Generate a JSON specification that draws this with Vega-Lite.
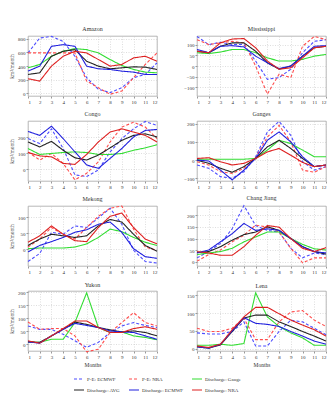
{
  "$schema": "https://vega.github.io/schema/vega-lite/v6.json",
  "padding": {"left": 9, "top": 25, "right": 0, "bottom": 5},
  "background": "white",
  "datasets": {
    "d": [
      {"b":"Amazon","m":1,"pe_ecmwf":592,"pe_nra":592,"gauge":373,"avg":276,"ecmwf":325,"nra":213},
      {"b":"Amazon","m":2,"pe_ecmwf":810,"pe_nra":592,"gauge":422,"avg":300,"ecmwf":398,"nra":179},
      {"b":"Amazon","m":3,"pe_ecmwf":834,"pe_nra":592,"gauge":543,"avg":543,"ecmwf":689,"nra":398},
      {"b":"Amazon","m":4,"pe_ecmwf":761,"pe_nra":592,"gauge":616,"avg":616,"ecmwf":713,"nra":543},
      {"b":"Amazon","m":5,"pe_ecmwf":543,"pe_nra":592,"gauge":655,"avg":640,"ecmwf":689,"nra":616},
      {"b":"Amazon","m":6,"pe_ecmwf":228,"pe_nra":179,"gauge":640,"avg":470,"ecmwf":398,"nra":592},
      {"b":"Amazon","m":7,"pe_ecmwf":58,"pe_nra":82,"gauge":592,"avg":398,"ecmwf":359,"nra":495},
      {"b":"Amazon","m":8,"pe_ecmwf":10,"pe_nra":-15,"gauge":495,"avg":359,"ecmwf":349,"nra":398},
      {"b":"Amazon","m":9,"pe_ecmwf":82,"pe_nra":34,"gauge":407,"avg":373,"ecmwf":325,"nra":422},
      {"b":"Amazon","m":10,"pe_ecmwf":228,"pe_nra":228,"gauge":349,"avg":388,"ecmwf":310,"nra":519},
      {"b":"Amazon","m":11,"pe_ecmwf":276,"pe_nra":422,"gauge":310,"avg":383,"ecmwf":276,"nra":543},
      {"b":"Amazon","m":12,"pe_ecmwf":446,"pe_nra":592,"gauge":300,"avg":349,"ecmwf":276,"nra":470},
      {"b":"Mississippi","m":1,"pe_ecmwf":138,"pe_nra":123,"gauge":62,"avg":69,"ecmwf":77,"nra":69},
      {"b":"Mississippi","m":2,"pe_ecmwf":100,"pe_nra":100,"gauge":58,"avg":62,"ecmwf":62,"nra":62},
      {"b":"Mississippi","m":3,"pe_ecmwf":111,"pe_nra":108,"gauge":65,"avg":92,"ecmwf":92,"nra":108},
      {"b":"Mississippi","m":4,"pe_ecmwf":100,"pe_nra":115,"gauge":77,"avg":108,"ecmwf":95,"nra":126},
      {"b":"Mississippi","m":5,"pe_ecmwf":100,"pe_nra":108,"gauge":77,"avg":108,"ecmwf":89,"nra":128},
      {"b":"Mississippi","m":6,"pe_ecmwf":23,"pe_nra":0,"gauge":62,"avg":69,"ecmwf":46,"nra":85},
      {"b":"Mississippi","m":7,"pe_ecmwf":-62,"pe_nra":-131,"gauge":38,"avg":15,"ecmwf":15,"nra":23},
      {"b":"Mississippi","m":8,"pe_ecmwf":-54,"pe_nra":-38,"gauge":23,"avg":-15,"ecmwf":-12,"nra":-15},
      {"b":"Mississippi","m":9,"pe_ecmwf":-15,"pe_nra":-54,"gauge":23,"avg":0,"ecmwf":0,"nra":-8},
      {"b":"Mississippi","m":10,"pe_ecmwf":62,"pe_nra":92,"gauge":31,"avg":46,"ecmwf":46,"nra":38},
      {"b":"Mississippi","m":11,"pe_ecmwf":115,"pe_nra":138,"gauge":46,"avg":85,"ecmwf":92,"nra":85},
      {"b":"Mississippi","m":12,"pe_ecmwf":123,"pe_nra":123,"gauge":54,"avg":92,"ecmwf":95,"nra":92},
      {"b":"Congo","m":1,"pe_ecmwf":190,"pe_nra":107,"gauge":128,"avg":169,"ecmwf":235,"nra":103},
      {"b":"Congo","m":2,"pe_ecmwf":159,"pe_nra":56,"gauge":91,"avg":138,"ecmwf":210,"nra":82},
      {"b":"Congo","m":3,"pe_ecmwf":251,"pe_nra":97,"gauge":97,"avg":173,"ecmwf":268,"nra":76},
      {"b":"Congo","m":4,"pe_ecmwf":128,"pe_nra":35,"gauge":103,"avg":117,"ecmwf":190,"nra":35},
      {"b":"Congo","m":5,"pe_ecmwf":-37,"pe_nra":-68,"gauge":107,"avg":70,"ecmwf":107,"nra":29},
      {"b":"Congo","m":6,"pe_ecmwf":-47,"pe_nra":-27,"gauge":103,"avg":56,"ecmwf":25,"nra":91},
      {"b":"Congo","m":7,"pe_ecmwf":-6,"pe_nra":45,"gauge":91,"avg":87,"ecmwf":4,"nra":169},
      {"b":"Congo","m":8,"pe_ecmwf":107,"pe_nra":169,"gauge":91,"avg":132,"ecmwf":66,"nra":231},
      {"b":"Congo","m":9,"pe_ecmwf":190,"pe_nra":262,"gauge":97,"avg":179,"ecmwf":128,"nra":251},
      {"b":"Congo","m":10,"pe_ecmwf":251,"pe_nra":292,"gauge":117,"avg":210,"ecmwf":200,"nra":231},
      {"b":"Congo","m":11,"pe_ecmwf":297,"pe_nra":262,"gauge":132,"avg":220,"ecmwf":241,"nra":210},
      {"b":"Congo","m":12,"pe_ecmwf":272,"pe_nra":190,"gauge":152,"avg":200,"ecmwf":247,"nra":169},
      {"b":"Ganges","m":1,"pe_ecmwf":-27,"pe_nra":-9,"gauge":5,"avg":0,"ecmwf":0,"nra":9},
      {"b":"Ganges","m":2,"pe_ecmwf":-45,"pe_nra":-27,"gauge":5,"avg":-18,"ecmwf":-5,"nra":13},
      {"b":"Ganges","m":3,"pe_ecmwf":-91,"pe_nra":-64,"gauge":5,"avg":-45,"ecmwf":-55,"nra":-9},
      {"b":"Ganges","m":4,"pe_ecmwf":-100,"pe_nra":-73,"gauge":5,"avg":-67,"ecmwf":-109,"nra":-27},
      {"b":"Ganges","m":5,"pe_ecmwf":-64,"pe_nra":-45,"gauge":5,"avg":-36,"ecmwf":-55,"nra":-18},
      {"b":"Ganges","m":6,"pe_ecmwf":18,"pe_nra":13,"gauge":9,"avg":9,"ecmwf":9,"nra":9},
      {"b":"Ganges","m":7,"pe_ecmwf":155,"pe_nra":127,"gauge":55,"avg":73,"ecmwf":109,"nra":45},
      {"b":"Ganges","m":8,"pe_ecmwf":213,"pe_nra":191,"gauge":109,"avg":109,"ecmwf":155,"nra":64},
      {"b":"Ganges","m":9,"pe_ecmwf":136,"pe_nra":100,"gauge":91,"avg":64,"ecmwf":100,"nra":27},
      {"b":"Ganges","m":10,"pe_ecmwf":-9,"pe_nra":-55,"gauge":55,"avg":9,"ecmwf":18,"nra":-13},
      {"b":"Ganges","m":11,"pe_ecmwf":-55,"pe_nra":-67,"gauge":18,"avg":-36,"ecmwf":-36,"nra":-36},
      {"b":"Ganges","m":12,"pe_ecmwf":-36,"pe_nra":-36,"gauge":18,"avg":-27,"ecmwf":-27,"nra":-27},
      {"b":"Mekong","m":1,"pe_ecmwf":-38,"pe_nra":7,"gauge":2,"avg":12,"ecmwf":-8,"nra":22},
      {"b":"Mekong","m":2,"pe_ecmwf":-13,"pe_nra":32,"gauge":4,"avg":32,"ecmwf":12,"nra":42},
      {"b":"Mekong","m":3,"pe_ecmwf":53,"pe_nra":68,"gauge":4,"avg":47,"ecmwf":24,"nra":73},
      {"b":"Mekong","m":4,"pe_ecmwf":47,"pe_nra":47,"gauge":4,"avg":42,"ecmwf":37,"nra":47},
      {"b":"Mekong","m":5,"pe_ecmwf":73,"pe_nra":32,"gauge":7,"avg":37,"ecmwf":53,"nra":27},
      {"b":"Mekong","m":6,"pe_ecmwf":68,"pe_nra":68,"gauge":17,"avg":42,"ecmwf":61,"nra":24},
      {"b":"Mekong","m":7,"pe_ecmwf":98,"pe_nra":103,"gauge":37,"avg":73,"ecmwf":78,"nra":68},
      {"b":"Mekong","m":8,"pe_ecmwf":128,"pe_nra":128,"gauge":63,"avg":93,"ecmwf":85,"nra":103},
      {"b":"Mekong","m":9,"pe_ecmwf":78,"pe_nra":135,"gauge":55,"avg":85,"ecmwf":53,"nra":113},
      {"b":"Mekong","m":10,"pe_ecmwf":-3,"pe_nra":63,"gauge":37,"avg":47,"ecmwf":2,"nra":68},
      {"b":"Mekong","m":11,"pe_ecmwf":-38,"pe_nra":7,"gauge":22,"avg":12,"ecmwf":-23,"nra":32},
      {"b":"Mekong","m":12,"pe_ecmwf":-43,"pe_nra":-3,"gauge":12,"avg":-6,"ecmwf":-28,"nra":17},
      {"b":"Chang Jiang","m":1,"pe_ecmwf":17,"pe_nra":3,"gauge":31,"avg":40,"ecmwf":38,"nra":44},
      {"b":"Chang Jiang","m":2,"pe_ecmwf":44,"pe_nra":31,"gauge":38,"avg":44,"ecmwf":51,"nra":38},
      {"b":"Chang Jiang","m":3,"pe_ecmwf":79,"pe_nra":51,"gauge":44,"avg":65,"ecmwf":86,"nra":28},
      {"b":"Chang Jiang","m":4,"pe_ecmwf":142,"pe_nra":86,"gauge":58,"avg":93,"ecmwf":121,"nra":28},
      {"b":"Chang Jiang","m":5,"pe_ecmwf":242,"pe_nra":114,"gauge":86,"avg":117,"ecmwf":165,"nra":65},
      {"b":"Chang Jiang","m":6,"pe_ecmwf":156,"pe_nra":158,"gauge":107,"avg":128,"ecmwf":135,"nra":114},
      {"b":"Chang Jiang","m":7,"pe_ecmwf":135,"pe_nra":149,"gauge":128,"avg":151,"ecmwf":142,"nra":156},
      {"b":"Chang Jiang","m":8,"pe_ecmwf":128,"pe_nra":128,"gauge":128,"avg":135,"ecmwf":135,"nra":149},
      {"b":"Chang Jiang","m":9,"pe_ecmwf":58,"pe_nra":58,"gauge":100,"avg":100,"ecmwf":100,"nra":100},
      {"b":"Chang Jiang","m":10,"pe_ecmwf":17,"pe_nra":-4,"gauge":75,"avg":65,"ecmwf":65,"nra":58},
      {"b":"Chang Jiang","m":11,"pe_ecmwf":38,"pe_nra":17,"gauge":56,"avg":44,"ecmwf":44,"nra":44},
      {"b":"Chang Jiang","m":12,"pe_ecmwf":31,"pe_nra":17,"gauge":51,"avg":33,"ecmwf":38,"nra":61},
      {"b":"Yukon","m":1,"pe_ecmwf":71,"pe_nra":86,"gauge":10,"avg":10,"ecmwf":10,"nra":14},
      {"b":"Yukon","m":2,"pe_ecmwf":58,"pe_nra":58,"gauge":8,"avg":8,"ecmwf":5,"nra":5},
      {"b":"Yukon","m":3,"pe_ecmwf":58,"pe_nra":61,"gauge":20,"avg":33,"ecmwf":33,"nra":33},
      {"b":"Yukon","m":4,"pe_ecmwf":39,"pe_nra":61,"gauge":20,"avg":58,"ecmwf":58,"nra":61},
      {"b":"Yukon","m":5,"pe_ecmwf":14,"pe_nra":33,"gauge":84,"avg":86,"ecmwf":81,"nra":90},
      {"b":"Yukon","m":6,"pe_ecmwf":-11,"pe_nra":-28,"gauge":198,"avg":77,"ecmwf":73,"nra":90},
      {"b":"Yukon","m":7,"pe_ecmwf":8,"pe_nra":-18,"gauge":65,"avg":65,"ecmwf":65,"nra":65},
      {"b":"Yukon","m":8,"pe_ecmwf":46,"pe_nra":46,"gauge":46,"avg":56,"ecmwf":52,"nra":46},
      {"b":"Yukon","m":9,"pe_ecmwf":71,"pe_nra":84,"gauge":48,"avg":48,"ecmwf":48,"nra":46},
      {"b":"Yukon","m":10,"pe_ecmwf":84,"pe_nra":122,"gauge":33,"avg":52,"ecmwf":46,"nra":61},
      {"b":"Yukon","m":11,"pe_ecmwf":73,"pe_nra":84,"gauge":27,"avg":46,"ecmwf":33,"nra":68},
      {"b":"Yukon","m":12,"pe_ecmwf":65,"pe_nra":71,"gauge":18,"avg":33,"ecmwf":20,"nra":58},
      {"b":"Lena","m":1,"pe_ecmwf":44,"pe_nra":57,"gauge":9,"avg":5,"ecmwf":5,"nra":7},
      {"b":"Lena","m":2,"pe_ecmwf":41,"pe_nra":48,"gauge":9,"avg":1,"ecmwf":1,"nra":3},
      {"b":"Lena","m":3,"pe_ecmwf":41,"pe_nra":48,"gauge":12,"avg":10,"ecmwf":12,"nra":12},
      {"b":"Lena","m":4,"pe_ecmwf":48,"pe_nra":57,"gauge":9,"avg":48,"ecmwf":50,"nra":53},
      {"b":"Lena","m":5,"pe_ecmwf":75,"pe_nra":85,"gauge":14,"avg":86,"ecmwf":87,"nra":89},
      {"b":"Lena","m":6,"pe_ecmwf":7,"pe_nra":25,"gauge":157,"avg":94,"ecmwf":71,"nra":116},
      {"b":"Lena","m":7,"pe_ecmwf":7,"pe_nra":25,"gauge":89,"avg":94,"ecmwf":68,"nra":116},
      {"b":"Lena","m":8,"pe_ecmwf":48,"pe_nra":75,"gauge":62,"avg":75,"ecmwf":62,"nra":98},
      {"b":"Lena","m":9,"pe_ecmwf":80,"pe_nra":103,"gauge":44,"avg":62,"ecmwf":48,"nra":80},
      {"b":"Lena","m":10,"pe_ecmwf":75,"pe_nra":107,"gauge":30,"avg":48,"ecmwf":35,"nra":66},
      {"b":"Lena","m":11,"pe_ecmwf":57,"pe_nra":80,"gauge":9,"avg":35,"ecmwf":21,"nra":53},
      {"b":"Lena","m":12,"pe_ecmwf":39,"pe_nra":62,"gauge":9,"avg":21,"ecmwf":12,"nra":35}
    ]
  },
  "data": {"name": "d"},
  "columns": 2,
  "bounds": "flush",
  "spacing": {"row": 25, "column": 40},
  "resolve": {"scale": {"color": "shared", "strokeDash": "shared"}, "legend": {"color": "shared", "strokeDash": "shared"}},
  "concat": [
    {"title": "Amazon", "width": 129, "height": 60,
     "transform": [{"filter": "datum.b === 'Amazon'"}, {"fold": ["pe_ecmwf","pe_nra","gauge","avg","ecmwf","nra"], "as": ["s","v"]}],
     "mark": {"type": "line"},
     "encoding": {
       "x": {"field": "m", "type": "quantitative", "scale": {"domain": [1,12]}, "axis": {"values": [1,2,3,4,5,6,7,8,9,10,11,12], "title": null}},
       "y": {"field": "v", "type": "quantitative", "scale": {"domain": [-40,840], "nice": false}, "axis": {"values": [0,200,400,600,800], "title": "km³/month"}},
       "color": {"field": "s", "type": "nominal", "scale": {"domain": ["pe_ecmwf","pe_nra","gauge","avg","ecmwf","nra"], "range": ["#4d4dff","#ff4d4d","#33dd33","#222222","#2020dd","#dd2020"]},
                 "legend": {"orient": "none", "legendX": 45, "legendY": 337, "columns": 3, "direction": "horizontal", "title": null, "symbolType": "stroke", "labelExpr": "datum.label == 'pe_ecmwf' ? 'P-E: ECMWF' : datum.label == 'pe_nra' ? 'P-E: NRA' : datum.label == 'gauge' ? 'Discharge: Gauge' : datum.label == 'avg' ? 'Discharge: AVG' : datum.label == 'ecmwf' ? 'Discharge: ECMWF' : 'Discharge: NRA'"}},
       "strokeDash": {"field": "s", "type": "nominal", "scale": {"domain": ["pe_ecmwf","pe_nra","gauge","avg","ecmwf","nra"], "range": [[3,2],[3,2],[1,0],[1,0],[1,0],[1,0]]},
                 "legend": {"orient": "none", "legendX": 45, "legendY": 337, "columns": 3, "direction": "horizontal", "title": null, "symbolType": "stroke", "labelExpr": "datum.label == 'pe_ecmwf' ? 'P-E: ECMWF' : datum.label == 'pe_nra' ? 'P-E: NRA' : datum.label == 'gauge' ? 'Discharge: Gauge' : datum.label == 'avg' ? 'Discharge: AVG' : datum.label == 'ecmwf' ? 'Discharge: ECMWF' : 'Discharge: NRA'"}},
       "strokeWidth": {"field": "s", "type": "nominal", "scale": {"domain": ["pe_ecmwf","pe_nra","gauge","avg","ecmwf","nra"], "range": [1.1,1.1,1.7,1.7,1.7,1.7]}, "legend": null}
     }},
    {"title": "Mississippi", "width": 129, "height": 60,
     "transform": [{"filter": "datum.b === 'Mississippi'"}, {"fold": ["pe_ecmwf","pe_nra","gauge","avg","ecmwf","nra"], "as": ["s","v"]}],
     "mark": {"type": "line"},
     "encoding": {
       "x": {"field": "m", "type": "quantitative", "scale": {"domain": [1,12]}, "axis": {"values": [1,2,3,4,5,6,7,8,9,10,11,12], "title": null}},
       "y": {"field": "v", "type": "quantitative", "scale": {"domain": [-140,140], "nice": false}, "axis": {"values": [-100,-50,0,50,100], "title": null}},
       "color": {"field": "s", "type": "nominal"},
       "strokeDash": {"field": "s", "type": "nominal"},
       "strokeWidth": {"field": "s", "type": "nominal", "scale": {"domain": ["pe_ecmwf","pe_nra","gauge","avg","ecmwf","nra"], "range": [1.1,1.1,1.7,1.7,1.7,1.7]}, "legend": null}
     }},
    {"title": "Congo", "width": 129, "height": 60,
     "transform": [{"filter": "datum.b === 'Congo'"}, {"fold": ["pe_ecmwf","pe_nra","gauge","avg","ecmwf","nra"], "as": ["s","v"]}],
     "mark": {"type": "line"},
     "encoding": {
       "x": {"field": "m", "type": "quantitative", "scale": {"domain": [1,12]}, "axis": {"values": [1,2,3,4,5,6,7,8,9,10,11,12], "title": null}},
       "y": {"field": "v", "type": "quantitative", "scale": {"domain": [-75,300], "nice": false}, "axis": {"values": [0,100,200], "title": "km³/month"}},
       "color": {"field": "s", "type": "nominal"},
       "strokeDash": {"field": "s", "type": "nominal"},
       "strokeWidth": {"field": "s", "type": "nominal", "scale": {"domain": ["pe_ecmwf","pe_nra","gauge","avg","ecmwf","nra"], "range": [1.1,1.1,1.7,1.7,1.7,1.7]}, "legend": null}
     }},
    {"title": "Ganges", "width": 129, "height": 60,
     "transform": [{"filter": "datum.b === 'Ganges'"}, {"fold": ["pe_ecmwf","pe_nra","gauge","avg","ecmwf","nra"], "as": ["s","v"]}],
     "mark": {"type": "line"},
     "encoding": {
       "x": {"field": "m", "type": "quantitative", "scale": {"domain": [1,12]}, "axis": {"values": [1,2,3,4,5,6,7,8,9,10,11,12], "title": null}},
       "y": {"field": "v", "type": "quantitative", "scale": {"domain": [-115,215], "nice": false}, "axis": {"values": [-100,0,100,200], "title": null}},
       "color": {"field": "s", "type": "nominal"},
       "strokeDash": {"field": "s", "type": "nominal"},
       "strokeWidth": {"field": "s", "type": "nominal", "scale": {"domain": ["pe_ecmwf","pe_nra","gauge","avg","ecmwf","nra"], "range": [1.1,1.1,1.7,1.7,1.7,1.7]}, "legend": null}
     }},
    {"title": "Mekong", "width": 129, "height": 60,
     "transform": [{"filter": "datum.b === 'Mekong'"}, {"fold": ["pe_ecmwf","pe_nra","gauge","avg","ecmwf","nra"], "as": ["s","v"]}],
     "mark": {"type": "line"},
     "encoding": {
       "x": {"field": "m", "type": "quantitative", "scale": {"domain": [1,12]}, "axis": {"values": [1,2,3,4,5,6,7,8,9,10,11,12], "title": null}},
       "y": {"field": "v", "type": "quantitative", "scale": {"domain": [-52,135], "nice": false}, "axis": {"values": [0,50,100], "title": "km³/month"}},
       "color": {"field": "s", "type": "nominal"},
       "strokeDash": {"field": "s", "type": "nominal"},
       "strokeWidth": {"field": "s", "type": "nominal", "scale": {"domain": ["pe_ecmwf","pe_nra","gauge","avg","ecmwf","nra"], "range": [1.1,1.1,1.7,1.7,1.7,1.7]}, "legend": null}
     }},
    {"title": "Chang Jiang", "width": 129, "height": 60,
     "transform": [{"filter": "datum.b === 'Chang Jiang'"}, {"fold": ["pe_ecmwf","pe_nra","gauge","avg","ecmwf","nra"], "as": ["s","v"]}],
     "mark": {"type": "line"},
     "encoding": {
       "x": {"field": "m", "type": "quantitative", "scale": {"domain": [1,12]}, "axis": {"values": [1,2,3,4,5,6,7,8,9,10,11,12], "title": null}},
       "y": {"field": "v", "type": "quantitative", "scale": {"domain": [-18,240], "nice": false}, "axis": {"values": [0,50,100,150,200], "title": null}},
       "color": {"field": "s", "type": "nominal"},
       "strokeDash": {"field": "s", "type": "nominal"},
       "strokeWidth": {"field": "s", "type": "nominal", "scale": {"domain": ["pe_ecmwf","pe_nra","gauge","avg","ecmwf","nra"], "range": [1.1,1.1,1.7,1.7,1.7,1.7]}, "legend": null}
     }},
    {"title": "Yukon", "width": 129, "height": 60,
     "transform": [{"filter": "datum.b === 'Yukon'"}, {"fold": ["pe_ecmwf","pe_nra","gauge","avg","ecmwf","nra"], "as": ["s","v"]}],
     "mark": {"type": "line"},
     "encoding": {
       "x": {"field": "m", "type": "quantitative", "scale": {"domain": [1,12]}, "axis": {"values": [1,2,3,4,5,6,7,8,9,10,11,12], "title": "Months"}},
       "y": {"field": "v", "type": "quantitative", "scale": {"domain": [-25,205], "nice": false}, "axis": {"values": [0,50,100,150,200], "title": "km³/month"}},
       "color": {"field": "s", "type": "nominal"},
       "strokeDash": {"field": "s", "type": "nominal"},
       "strokeWidth": {"field": "s", "type": "nominal", "scale": {"domain": ["pe_ecmwf","pe_nra","gauge","avg","ecmwf","nra"], "range": [1.1,1.1,1.7,1.7,1.7,1.7]}, "legend": null}
     }},
    {"title": "Lena", "width": 129, "height": 60,
     "transform": [{"filter": "datum.b === 'Lena'"}, {"fold": ["pe_ecmwf","pe_nra","gauge","avg","ecmwf","nra"], "as": ["s","v"]}],
     "mark": {"type": "line"},
     "encoding": {
       "x": {"field": "m", "type": "quantitative", "scale": {"domain": [1,12]}, "axis": {"values": [1,2,3,4,5,6,7,8,9,10,11,12], "title": "Months"}},
       "y": {"field": "v", "type": "quantitative", "scale": {"domain": [-7,162], "nice": false}, "axis": {"values": [0,50,100,150], "title": null}},
       "color": {"field": "s", "type": "nominal"},
       "strokeDash": {"field": "s", "type": "nominal"},
       "strokeWidth": {"field": "s", "type": "nominal", "scale": {"domain": ["pe_ecmwf","pe_nra","gauge","avg","ecmwf","nra"], "range": [1.1,1.1,1.7,1.7,1.7,1.7]}, "legend": null}
     }}
  ],
  "config": {
    "font": "Liberation Serif",
    "view": {"stroke": "#999999", "strokeWidth": 0.7},
    "axis": {"labelFont": "Liberation Serif", "labelFontSize": 5, "labelColor": "#333333", "titleFont": "Liberation Serif", "titleFontSize": 5.5, "titleFontWeight": "normal", "titleColor": "#333333", "titlePadding": 3, "gridColor": "#c8c8c8", "gridDash": [1, 1.5], "gridWidth": 0.6, "domain": false, "tickSize": 2, "tickColor": "#999999", "labelPadding": 1},
    "title": {"font": "Liberation Serif", "fontSize": 6, "fontWeight": "normal", "color": "#333333", "offset": 2},
    "legend": {"symbolSize": 100, "symbolStrokeWidth": 1.5, "labelFont": "Liberation Serif", "labelFontSize": 5, "labelColor": "#333333", "columnPadding": 5, "rowPadding": 2, "labelOffset": 2}
  }
}
